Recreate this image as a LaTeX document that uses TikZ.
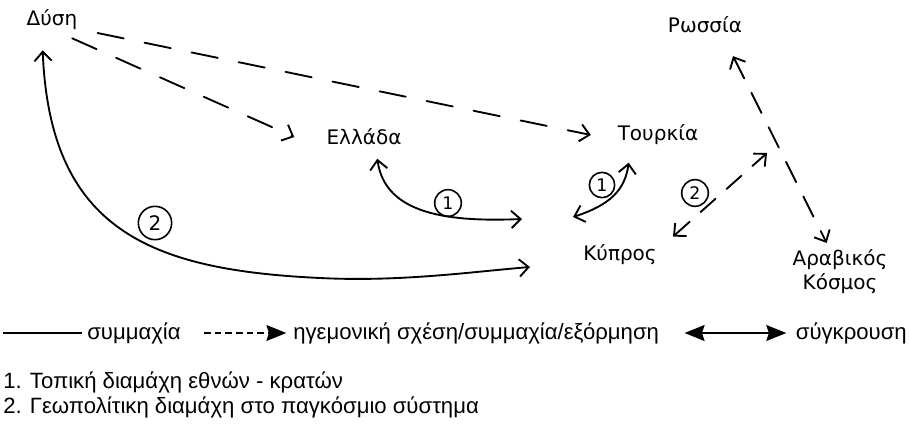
\documentclass[tikz,border=0pt]{standalone}
\usepackage{fontspec}
\setmainfont{DejaVu Sans}
\newfontfamily\legfont{Liberation Sans}
\usetikzlibrary{arrows.meta}

\begin{document}
\begin{tikzpicture}[x=0.75pt,y=-0.75pt,
	land/.style={font=\fontsize{15}{18}\selectfont, inner sep=2pt},
	ally/.style={line width=1.4pt, line cap=round},
	dominance/.style={ally, dash pattern=on 20pt off 16pt},
	hand/.tip={Straight Barb[length=7pt,width=13pt]},
	numcirc/.style={circle, draw, line width=1.2pt, minimum size=20pt, inner sep=0pt, font=\fontsize{13}{13}\selectfont},
	legtext/.style={anchor=west, inner sep=0pt, font=\legfont\fontsize{16.6}{19}\selectfont},
	legtip/.tip={Stealth[length=15pt,width=12pt,inset=2pt]}]
	\useasboundingbox (0,0) rectangle (910,428);
	% places
	\node[land] at (52,20) (dysi) {Δύση};
	\node[land] at (705,25) (rossia) {Ρωσσία};
	\node[land] at (364,137) (ellada) {Ελλάδα};
	\node[land] at (658,135) (tourkia) {Τουρκία};
	\node[land] at (620,255) (kypros) {Κύπρος};
	\node[land, align=center] at (840,272) (araviko) {Αραβικός\\Κόσμος};
	\coordinate (conf1) at (522,219);
	\coordinate (conf2) at (530,267);
	\coordinate (conf3) at (573,217);
	\coordinate (mid) at (767,153);
	% numbers
	\node[numcirc, minimum size=25pt, font=\fontsize{15}{15}\selectfont] at (155,223) (n2a) {2};
	\node[numcirc] at (448,203) (n1a) {1};
	\node[numcirc, minimum size=19pt] at (602,185) (n1b) {1};
	\node[numcirc] at (695,193) (n2b) {2};
	% hegemony
	\draw[dominance, -hand] ([xshift=-6pt,yshift=-4pt]dysi.south east) -- ([xshift=-22pt]ellada.west);
	\draw[dominance, -hand] ([xshift=13pt]dysi.south east) -- ([xshift=-18pt]tourkia.west);
	\draw[dominance, hand-hand, dash pattern=on 17pt off 12pt] ([xshift=-9pt,yshift=-15pt]rossia.south east) -- ([xshift=-10pt,yshift=3pt]araviko.north);
	\draw[dominance, hand-hand, dash pattern=on 15pt off 11pt] ([xshift=10pt,yshift=4pt]kypros.north east) -- (mid);
	% conflicts
	\draw[ally, hand-hand] ([xshift=-7pt,yshift=-13pt]dysi.south) .. controls (50,230) and (150,270) .. (320,278) .. controls (400,282) and (470,272) .. (conf2);
	\draw[ally, hand-hand] ([xshift=10pt,yshift=-8pt]ellada.south) .. controls (385,215) and (450,222) .. (conf1);
	\draw[ally, hand-hand] (conf3) .. controls (610,205) and (625,190) .. ([xshift=-22pt,yshift=-11pt]tourkia.south);
	% legend
	\coordinate (l1) at (3,333);
	\coordinate (l2) at (204,333);
	\node[legtext] at (87,333) (leg1) {συμμαχία};
	\node[legtext] at (293,333) (leg2) {ηγεμονική σχέση/συμμαχία/εξόρμηση};
	\node[legtext, anchor=east] at (907,333) (leg3) {σύγκρουση};
	\node[legtext] at (3,382) (note1) {1. Τοπική διαμάχη εθνών - κρατών};
	\node[legtext] at (3,407) (note2) {2. Γεωπολίτικη διαμάχη στο παγκόσμιο σύστημα};
	\draw[line width=0.8pt] (l1) -- ([xshift=-4pt]leg1.west);
	\draw[line width=0.8pt, dash pattern=on 5pt off 3pt, -legtip] (l2) -- ([xshift=-5pt]leg2.west);
	\draw[line width=0.8pt, legtip-legtip] ([xshift=19pt]leg2.east) -- ([xshift=-7pt]leg3.west);
\end{tikzpicture}
\end{document}
